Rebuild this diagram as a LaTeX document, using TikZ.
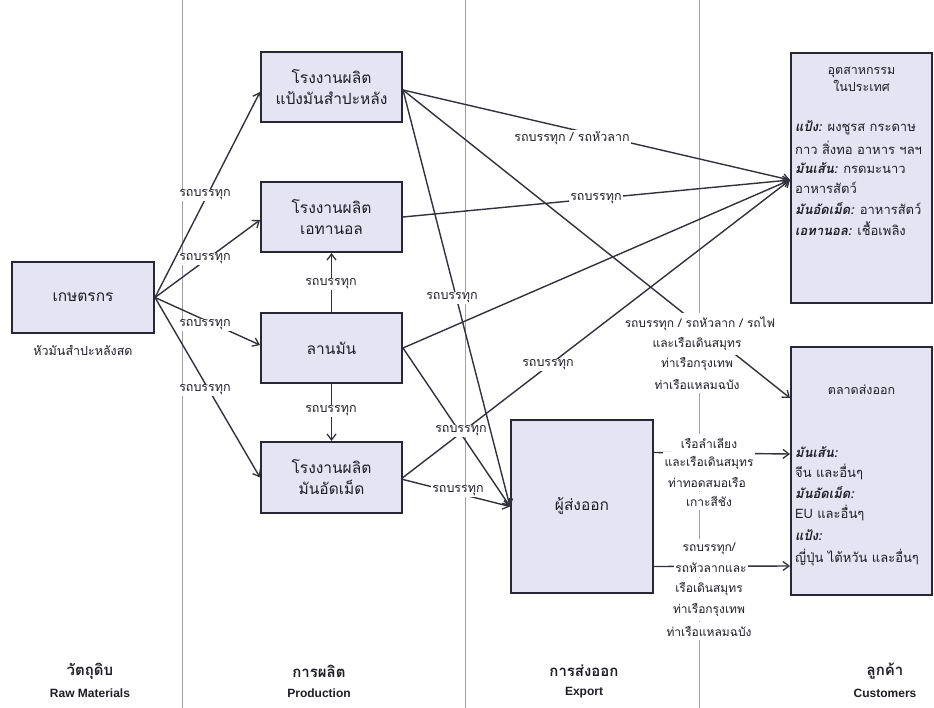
\documentclass[tikz,border=0pt]{standalone}
\usepackage{fontspec}
\setmainfont{Liberation Sans}
\newfontfamily\thai[Script=Thai]{Loma}
\usetikzlibrary{arrows.meta}
\definecolor{boxfill}{RGB}{228,228,242}
\definecolor{boxdraw}{RGB}{40,40,52}
\definecolor{linec}{RGB}{50,50,60}
\definecolor{sepc}{RGB}{160,160,165}
\definecolor{txtc}{RGB}{30,30,38}
\begin{document}
\begin{tikzpicture}[x=1pt,y=-1pt,
  box/.style={draw=boxdraw,fill=boxfill,line width=2pt,align=center,font=\thai\fontsize{15.5}{21}\selectfont,text=txtc,inner sep=2pt},
  lbl/.style={fill=white,inner sep=1pt,font=\thai\fontsize{12.5}{19}\selectfont,text=txtc,align=center},
  bl/.style={fill=white,inner xsep=1.5pt,inner ysep=4pt,font=\thai\fontsize{12}{14}\selectfont,text=txtc},
  conn/.style={draw=linec,line width=1.4pt},
  arr/.style={conn,-{Straight Barb[length=6pt,width=9pt,line width=1.3pt]}},
  sep/.style={draw=sepc,line width=0.9pt},
  hdr/.style={font=\thai\bfseries\fontsize{15}{17}\selectfont,text=txtc},
  hdre/.style={font=\bfseries\fontsize{12}{14}\selectfont,text=txtc},
  inl/.style={font=\thai\fontsize{13}{15}\selectfont,text=txtc,anchor=west,inner sep=0pt},
  inh/.style={font=\thai\fontsize{12.5}{17}\selectfont,text=txtc,align=center,inner sep=0pt},
]
\useasboundingbox[fill=white] (0,0) rectangle (934,708);
% separators
\coordinate (s1t) at (182,0); \coordinate (s1b) at (182,708);
\coordinate (s2t) at (465,0); \coordinate (s2b) at (465,708);
\coordinate (s3t) at (699,0); \coordinate (s3b) at (699,708);
\draw[sep] (s1t) -- (s1b);
\draw[sep] (s2t) -- (s2b);
\draw[sep] (s3t) -- (s3b);

% boxes
\node[box,minimum width=142pt,minimum height=71pt] (farmer) at (83,297.5) {เกษตรกร};
\node[box,minimum width=141pt,minimum height=70pt] (starch) at (331.5,87) {โรงงานผลิต\\แป้งมันสำปะหลัง};
\node[box,minimum width=141pt,minimum height=70pt] (ethanol) at (331.5,217) {โรงงานผลิต\\เอทานอล};
\node[box,minimum width=141pt,minimum height=70pt] (yard) at (331.5,348) {ลานมัน};
\node[box,minimum width=141pt,minimum height=71pt] (pellet) at (331.5,477.5) {โรงงานผลิต\\มันอัดเม็ด};
\node[box,minimum width=142pt,minimum height=173pt] (exporter) at (582,506.5) {ผู้ส่งออก};
\node[box,minimum width=141pt,minimum height=250pt] (industry) at (861.5,178) {};
\node[box,minimum width=141pt,minimum height=248pt] (market) at (861.5,471) {};

\node[lbl,fill=none] (farmersub) at (83,350) {หัวมันสำปะหลังสด};

% box contents
\node[inh] (ind0) at (861.5,79) {อุตสาหกรรม\\ในประเทศ};
\node[inl] (ind1) at (795,128) {{\bfseries\itshape แป้ง:} ผงชูรส กระดาษ};
\node[inl] (ind2) at (795,148) {กาว สิ่งทอ อาหาร ฯลฯ};
\node[inl] (ind3) at (795,168) {{\bfseries\itshape มันเส้น:} กรดมะนาว};
\node[inl] (ind4) at (795,188) {อาหารสัตว์};
\node[inl] (ind5) at (795,209) {{\bfseries\itshape มันอัดเม็ด:} อาหารสัตว์};
\node[inl] (ind6) at (795,229) {{\bfseries\itshape เอทานอล:} เชื้อเพลิง};

\node[inh] (mk0) at (861.5,390) {ตลาดส่งออก};
\node[inl] (mk1) at (795,452) {\bfseries\itshape มันเส้น:};
\node[inl] (mk2) at (795,472) {จีน และอื่นๆ};
\node[inl] (mk3) at (795,493) {\bfseries\itshape มันอัดเม็ด:};
\node[inl] (mk4) at (795,513) {EU และอื่นๆ};
\node[inl] (mk5) at (795,535) {\bfseries\itshape แป้ง:};
\node[inl] (mk6) at (795,558) {ญี่ปุ่น ไต้หวัน และอื่นๆ};

% connectors from farmer
\draw[arr] (farmer.east) -- ([yshift=-5pt]starch.west);
\draw[arr] (farmer.east) -- ([yshift=-3pt]ethanol.west);
\draw[arr] (farmer.east) -- ([yshift=3pt]yard.west);
\draw[arr] (farmer.east) -- (pellet.west);
% yard up/down
\draw[arr] (yard.north) -- (ethanol.south);
\draw[arr] (yard.south) -- (pellet.north);
% to industry
\draw[arr] ([yshift=-3pt]starch.east) -- ([yshift=-2pt]industry.west);
\draw[arr] (ethanol.east) -- ([yshift=-2pt]industry.west);
\draw[arr] (yard.east) -- ([yshift=-2pt]industry.west);
\draw[arr] (pellet.east) -- ([yshift=-2pt]industry.west);
% to exporter
\draw[arr] ([yshift=-3pt]starch.east) -- (exporter.west);
\draw[arr] (yard.east) -- (exporter.west);
\draw[arr] ([yshift=-2pt]pellet.east) -- (exporter.west);
% to market
\draw[arr] ([yshift=-3pt]starch.east) -- ([yshift=73pt]market.west);
\draw[arr] ([yshift=54pt]exporter.east) -- ([yshift=17pt]market.west);
\draw[arr] ([yshift=-60pt]exporter.east) -- ([yshift=-95pt]market.west);

% labels
\node[lbl] (la1) at (205,195) {รถบรรทุก};
\node[lbl] (la2) at (205,259) {รถบรรทุก};
\node[lbl] (la3) at (205,325) {รถบรรทุก};
\node[lbl] (la4) at (205,390) {รถบรรทุก};
\node[lbl] (lb1) at (331,284) {รถบรรทุก};
\node[lbl] (lb2) at (331,411) {รถบรรทุก};
\node[lbl] (lc1) at (572,138) {รถบรรทุก / รถหัวลาก};
\node[lbl] (lc2) at (596,199) {รถบรรทุก};
\node[lbl] (lc3) at (452,298) {รถบรรทุก};
\node[lbl] (lc4) at (548,365) {รถบรรทุก};
\node[lbl] (lc5) at (461,431) {รถบรรทุก};
\node[lbl] (lc6) at (458,491) {รถบรรทุก};

\node[bl] (b1a) at (700,324) {รถบรรทุก / รถหัวลาก / รถไฟ};
\node[bl] (b1b) at (697,344) {และเรือเดินสมุทร};
\node[bl] (b1c) at (697,364) {ท่าเรือกรุงเทพ};
\node[bl] (b1d) at (697,384) {ท่าเรือแหลมฉบัง};

\node[bl] (b2a) at (709,443) {เรือลำเลียง};
\node[bl] (b2b) at (709,463) {และเรือเดินสมุทร};
\node[bl] (b2c) at (707,482) {ท่าทอดสมอเรือ};
\node[bl] (b2d) at (709,501) {เกาะสีชัง};

\node[bl] (b3a) at (709,549) {รถบรรทุก/};
\node[bl] (b3b) at (711,568) {รถหัวลากและ};
\node[bl] (b3c) at (709,589) {เรือเดินสมุทร};
\node[bl] (b3d) at (709,610) {ท่าเรือกรุงเทพ};
\node[bl] (b3e) at (709,631) {ท่าเรือแหลมฉบัง};

% headers
\node[hdr] (h1) at (90,671) {วัตถุดิบ};
\node[hdre] (e1) at (90,693) {Raw Materials};
\node[hdr] (h2) at (319,671) {การผลิต};
\node[hdre] (e2) at (319,693) {Production};
\node[hdr] (h3) at (584,671) {การส่งออก};
\node[hdre] (e3) at (584,693) {Export};
\node[hdr] (h4) at (885,671) {ลูกค้า};
\node[hdre] (e4) at (885,693) {Customers};
\end{tikzpicture}
\end{document}
